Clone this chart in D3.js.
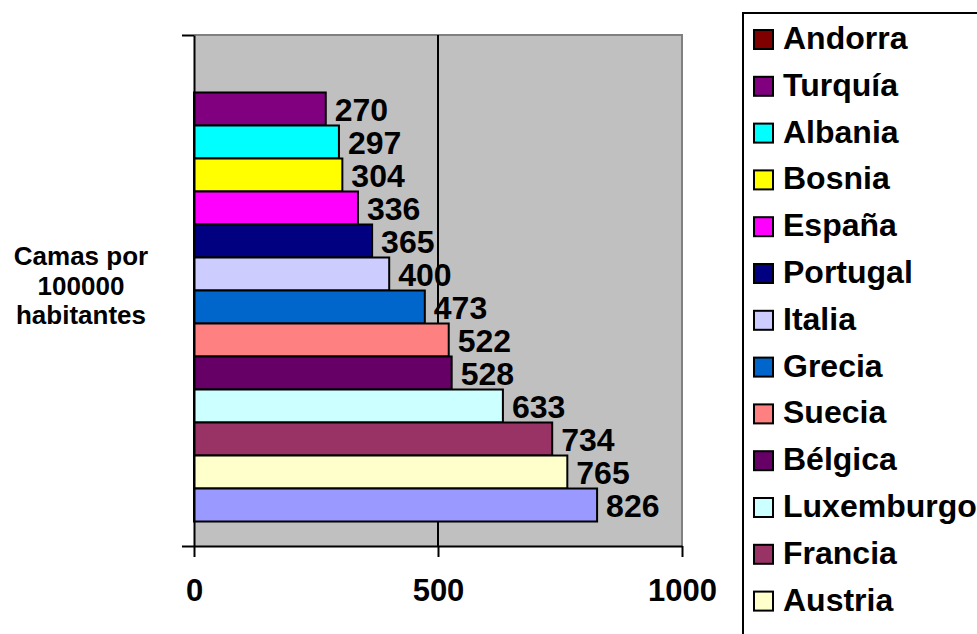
<!DOCTYPE html>
<html>
<head>
<meta charset="utf-8">
<script src="https://cdn.jsdelivr.net/npm/d3@7"></script>
<style>
  body { margin: 0; background: #fff; }
  text { font-family: "Liberation Sans", Arial, sans-serif; font-weight: bold; fill: #000; }
</style>
</head>
<body>
<svg id="chart"></svg>
<script>
// paises (orden de la leyenda, de arriba a abajo)
var countries = ['Andorra', 'Turquía', 'Albania', 'Bosnia', 'España', 'Portugal', 'Italia',
    'Grecia', 'Suecia', 'Bélgica', 'Luxemburgo', 'Francia', 'Austria', 'Alemania'];
// camas por 100000 habitantes (Andorra sin dato)
var beds = [null, 270, 297, 304, 336, 365, 400, 473, 522, 528, 633, 734, 765, 826];
var colors = ['#800000', '#800080', '#00FFFF', '#FFFF00', '#FF00FF', '#000080', '#CCCCFF',
    '#0066CC', '#FF8080', '#660066', '#CCFFFF', '#993366', '#FFFFCC', '#9999FF'];
var xTicks = [0, 500, 1000];
var yTitle = ['Camas por', '100000', 'habitantes'];

var options = {
    width: 977,
    height: 634,
    plotLeft: 194,
    plotRight: 682,
    plotTop: 35,
    plotBottom: 546,
    legendX: 743,
    legendY: 13,
    legendStep: 46.8
};

var data = countries.map(function(c, i) {
    return {name: c, value: beds[i], color: colors[i]};
});

var svg = d3.select('#chart')
    .attr('width', options.width)
    .attr('height', options.height);

var xScale = d3.scaleLinear().domain([0, 1000]).range([options.plotLeft, options.plotRight]);
var yScale = d3.scaleBand().domain(countries)
    .range([options.plotTop, options.plotBottom])
    .paddingInner(0).paddingOuter(0.742);

// fondo del area de trazado
svg.append('rect')
    .attr('x', options.plotLeft).attr('y', options.plotTop)
    .attr('width', options.plotRight - options.plotLeft)
    .attr('height', options.plotBottom - options.plotTop)
    .style('fill', '#C0C0C0');

svg.append('path')
    .attr('d', 'M' + options.plotLeft + ',' + options.plotTop + 'H' + options.plotRight + 'V' + options.plotBottom)
    .style('fill', 'none').style('stroke', '#808080').style('stroke-width', 2);

// linea de division en 500
svg.append('line')
    .attr('x1', xScale(500)).attr('x2', xScale(500))
    .attr('y1', options.plotTop).attr('y2', options.plotBottom)
    .style('stroke', '#000').style('stroke-width', 2);

// barras
var withData = data.filter(function(d) { return d.value != null; });

svg.selectAll('.bar')
    .data(withData)
    .enter().append('rect')
    .attr('class', 'bar')
    .attr('x', xScale(0))
    .attr('y', function(d) { return yScale(d.name); })
    .attr('width', function(d) { return xScale(d.value) - xScale(0); })
    .attr('height', yScale.bandwidth())
    .style('fill', function(d) { return d.color; })
    .style('stroke', '#000').style('stroke-width', 2);

svg.selectAll('.val')
    .data(withData)
    .enter().append('text')
    .attr('class', 'val')
    .attr('x', function(d) { return xScale(d.value) + 9; })
    .attr('y', function(d) { return yScale(d.name) + yScale.bandwidth() / 2; })
    .attr('dy', '0.36em')
    .style('font-size', '32px')
    .text(function(d) { return d.value; });

// ejes
var xAxis = d3.axisBottom(xScale).tickValues(xTicks).tickFormat(d3.format('d'))
    .tickSize(11).tickSizeOuter(0).tickPadding(22);
var gx = svg.append('g')
    .attr('transform', 'translate(0,' + options.plotBottom + ')')
    .call(xAxis);
gx.selectAll('text').style('font-size', '31px');

var yLin = d3.scaleLinear().domain([0, 1]).range([options.plotBottom, options.plotTop]);
svg.append('g')
    .attr('transform', 'translate(' + options.plotLeft + ',0)')
    .call(d3.axisLeft(yLin).tickValues([0, 1]).tickFormat('').tickSize(12).tickSizeOuter(0));

svg.selectAll('.domain, .tick line').style('stroke', '#000').style('stroke-width', 2);

// titulo del eje
svg.append('text')
    .attr('text-anchor', 'middle')
    .style('font-size', '26px')
    .selectAll('tspan')
    .data(yTitle)
    .enter().append('tspan')
    .attr('x', 81)
    .attr('y', function(d, i) { return 265 + i * 29.5; })
    .text(function(d) { return d; });

// leyenda (la ultima entrada queda fuera del lienzo, como en el original)
svg.append('path')
    .attr('d', 'M' + options.legendX + ',' + options.height + 'V' + options.legendY + 'H' + options.width)
    .style('fill', 'none').style('stroke', '#000').style('stroke-width', 2);

var legendData = data.filter(function(d, i) {
    return options.legendY + 36 + i * options.legendStep < options.height;
});

var legend = svg.selectAll('.legend')
    .data(legendData)
    .enter().append('g')
    .attr('class', 'legend')
    .attr('transform', function(d, i) {
        return 'translate(' + options.legendX + ',' + (options.legendY + 36 + i * options.legendStep) + ')';
    });

legend.append('rect')
    .attr('x', 11).attr('y', -19)
    .attr('width', 19).attr('height', 19)
    .style('fill', function(d) { return d.color; })
    .style('stroke', '#000').style('stroke-width', 2);

legend.append('text')
    .attr('x', 40).attr('y', 0)
    .style('font-size', '32px')
    .text(function(d) { return d.name; });
</script>
</body>
</html>
